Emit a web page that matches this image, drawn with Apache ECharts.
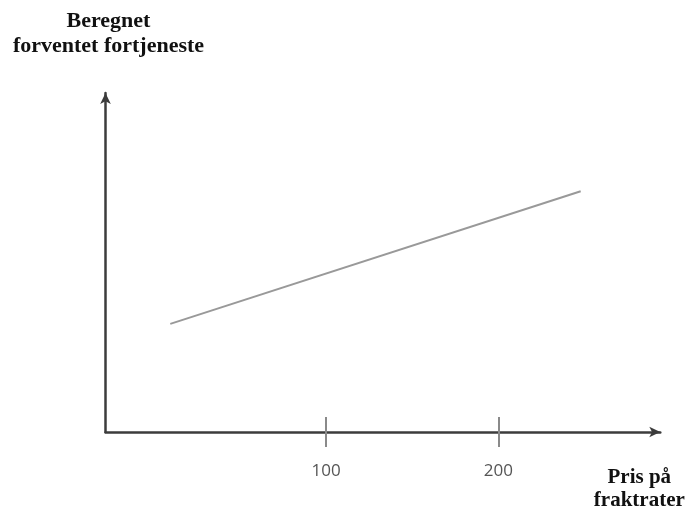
<!DOCTYPE html>
<html>
<head>
<meta charset="utf-8">
<script src="https://cdn.jsdelivr.net/npm/echarts@6/dist/echarts.min.js"></script>
<style>html,body{margin:0;padding:0;background:#fff}#c{width:688px;height:507px}</style>
</head>
<body>
<div id="c"></div>
<script>
const xName = 'Pris på\nfraktrater';
const yName = 'Beregnet\nforventet fortjeneste';
const tickValues = [100, 200];
const linePrice = [9.6, 247.8];
const lineProfit = [31.9, 71.0];

const chart = echarts.init(document.getElementById('c'), null, {renderer: 'canvas'});
const serif = {fontFamily: 'Liberation Serif', fontWeight: 'bold', fontSize: 21, color: '#111'};
chart.setOption({
  animation: false,
  backgroundColor: '#fff',
  grid: {left: 105.5, right: 27.7, top: 93, bottom: 75, containLabel: false, outerBoundsMode: 'none'},
  xAxis: [{
    type: 'value', position: 'bottom', min: -28, max: 294,
    name: xName, nameLocation: 'end', nameGap: -21,
    nameTextStyle: Object.assign({}, serif, {align: 'center', verticalAlign: 'top', lineHeight: 23, padding: [34, 0, 0, 0]}),
    axisLine: {onZero: false, lineStyle: {color: '#3c3c3c', width: 2.5}, symbol: ['none', 'arrow'], symbolSize: [8, 11]},
    axisTick: {show: true, inside: false, length: 15, customValues: tickValues, lineStyle: {color: '#8a8a8a', width: 2}},
    axisLabel: {show: true, customValues: tickValues, margin: 31, fontFamily: 'Open Sans', fontSize: 17, color: '#555'},
    splitLine: {show: false}
  }, {
    type: 'value', position: 'bottom', min: -28, max: 294,
    axisLine: {show: false, onZero: false},
    axisTick: {show: true, inside: true, length: 15, customValues: tickValues, lineStyle: {color: '#8a8a8a', width: 2}},
    axisLabel: {show: false},
    splitLine: {show: false}
  }],
  yAxis: {
    type: 'value', min: 0, max: 100,
    name: yName, nameLocation: 'end', nameGap: 34,
    nameTextStyle: Object.assign({}, serif, {fontSize: 22, align: 'center', lineHeight: 25, padding: [0, 0, 0, 6]}),
    axisLine: {show: true, onZero: false, lineStyle: {color: '#3c3c3c', width: 2.5}, symbol: ['none', 'arrow'], symbolSize: [8, 11]},
    axisTick: {show: false},
    axisLabel: {show: false},
    splitLine: {show: false}
  },
  series: [{
    type: 'line',
    data: linePrice.map((p, i) => [p, lineProfit[i]]),
    showSymbol: false,
    lineStyle: {color: '#999', width: 2}
  }]
});
</script>
</body>
</html>
